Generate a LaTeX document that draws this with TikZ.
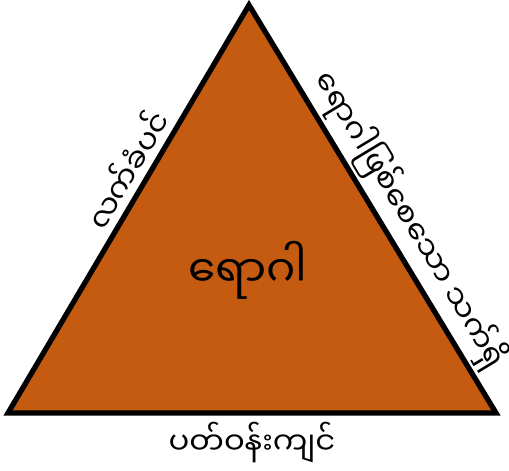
\documentclass[tikz,border=0pt]{standalone}
\usepackage{fontspec}
\newfontfamily\mmfont[Script=Myanmar]{Noto Sans Myanmar UI}
\usepackage{tikz}

\tikzset{
  mmtext/.style={font=\mmfont\fontsize{17.5}{20}\selectfont, inner sep=2pt},
  mmbig/.style={font=\mmfont\fontsize{25}{28}\selectfont, inner sep=2pt}
}

\begin{document}
\begin{tikzpicture}[x=0.02cm,y=-0.02cm]
\useasboundingbox (0,0) rectangle (509,470);
\coordinate (apex) at (249,5);
\coordinate (left) at (8,413);
\coordinate (right) at (496,413);
\filldraw[fill={rgb,255:red,197;green,90;blue,17}, line width=3pt, line join=miter]
  (apex) -- (left) -- (right) -- cycle;
\node[mmbig] (agent) at (248,270) {ရောဂါ};
\path (left) -- (apex) node[mmtext, pos=0.57, sloped, above=1pt] (host) {လက်ခံပင်};
\path (apex) -- (right) node[mmtext, pos=0.56, sloped, above=1pt] (cause) {ရောဂါဖြစ်စေသော သက်ရှိ};
\path (left) -- (right) node[mmtext, midway, below=3pt] (env) {ပတ်ဝန်းကျင်};
\end{tikzpicture}
\end{document}
